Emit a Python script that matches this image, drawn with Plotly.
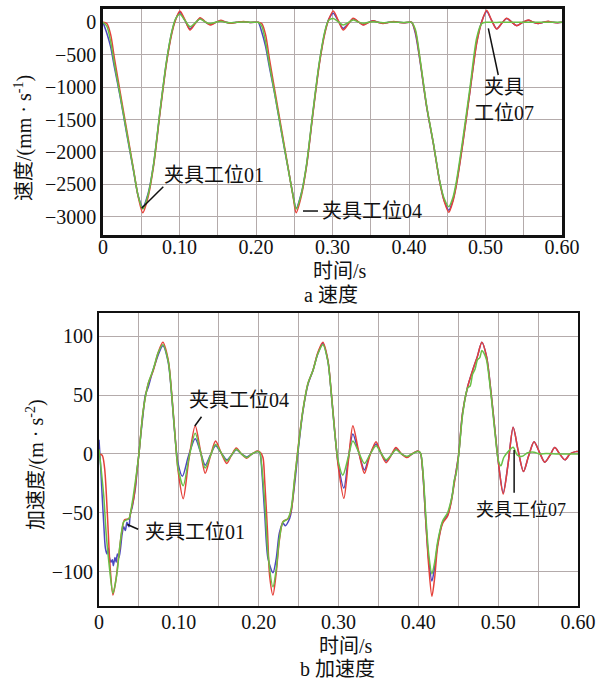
import plotly.graph_objects as go

# ---------------- velocity data (mm/s) ----------------
VEL_T = [0, 0.005, 0.010, 0.015, 0.022, 0.031, 0.040, 0.046, 0.052, 0.059,
         0.066, 0.0745, 0.083, 0.090, 0.095, 0.1005, 0.107, 0.1137, 0.1205, 0.127,
         0.1335, 0.140, 0.147, 0.154, 0.160, 0.166, 0.175, 0.184, 0.192, 0.200,
         0.203, 0.2075, 0.2125, 0.2175, 0.2245, 0.2335, 0.2425, 0.2485, 0.2525, 0.259,
         0.266, 0.2745, 0.283, 0.290, 0.295, 0.301, 0.3075, 0.314, 0.3205, 0.327,
         0.3335, 0.340, 0.3465, 0.353, 0.3595, 0.366, 0.373, 0.380, 0.3865, 0.393, 0.400,
         0.4035, 0.4085, 0.4144, 0.4231, 0.4318, 0.4405, 0.446, 0.452, 0.4575, 0.4616,
         0.4704, 0.480, 0.4885, 0.4950, 0.5015, 0.508, 0.5146, 0.521, 0.5277, 0.534,
         0.5407, 0.548, 0.556, 0.5625, 0.569, 0.5755, 0.582, 0.588, 0.5945, 0.600]

VEL_RED = [0, -20, -190, -560, -1045, -1662, -2279, -2691, -2938, -2691,
           -2228, -1404, -633, -170, 40, 174, 40, -119, -20, 71,
           10, -42, -5, 30, 5, -15, 0, 12, -3, 0,
           0, -20, -190, -560, -1045, -1662, -2279, -2691, -2938, -2691,
           -2228, -1404, -633, -170, 40, 174, 30, -119, -30, 62,
           10, -42, -8, 25, 0, -20, -2, 12, 0, -8, 0,
           0, -150, -582, -1302, -1867, -2485, -2760, -2932, -2760, -2537,
           -1867, -1045, -324, 0, 185, 30, -103, -20, 62, 5,
           -52, -5, 35, 0, -20, 0, 15, 0, -8, 0]

VEL_BLUE = [0, -170, -380, -700, -1120, -1720, -2300, -2680, -2850, -2640,
            -2200, -1380, -610, -150, 50, 150, 30, -100, -15, 60,
            8, -35, -3, 25, 3, -12, 0, 10, -2, 0,
            0, -150, -370, -690, -1110, -1710, -2290, -2670, -2870, -2650,
            -2210, -1385, -615, -155, 45, 140, 20, -93, -20, 55,
            8, -38, -5, 22, 0, -16, 0, 10, 0, -6, 0,
            0, -180, -600, -1310, -1870, -2480, -2750, -2900, -2740, -2520,
            -1850, -1030, -310, 10, 165, 30, -100, -20, 60, 5,
            -50, -5, 33, 0, -19, 0, 14, 0, -7, 0]

VEL_GREEN = [0, -60, -300, -650, -1100, -1700, -2290, -2680, -2880, -2660,
             -2200, -1370, -600, -140, 55, 123, 30, -68, -10, 50,
             5, -20, 0, 15, 0, -8, 0, 6, 0, 0,
             0, -60, -300, -650, -1100, -1700, -2290, -2680, -2880, -2660,
             -2200, -1370, -600, -140, 30, 60, 10, -42, -5, 35,
             5, -15, 0, 10, 0, -6, 0, 4, 0, -2, 0,
             0, -120, -560, -1290, -1860, -2470, -2720, -2845, -2700, -2480,
             -1800, -980, -240, -20, 0, 0, -3, 0, 2, 0,
             0, 0, 0, 0, 0, 0, 0, 0, 0, 0]

# ---------------- acceleration data (m/s^2) ----------------
ACC_T_RED = [0, 0.004, 0.007, 0.0104, 0.0138, 0.0175, 0.021, 0.025, 0.029, 0.032,
             0.0375, 0.0405, 0.0437, 0.047, 0.050, 0.0554, 0.0617, 0.068, 0.074, 0.080,
             0.0867, 0.091, 0.095, 0.099, 0.1055, 0.1125, 0.1205, 0.127, 0.133, 0.1395,
             0.146, 0.153, 0.160, 0.166, 0.172, 0.1785, 0.185, 0.1915, 0.1985, 0.2025,
             0.2054, 0.2075, 0.211, 0.2138, 0.2179, 0.222, 0.226, 0.2304, 0.2367, 0.2408,
             0.245, 0.249, 0.2554, 0.2617, 0.268, 0.274, 0.2804, 0.2867, 0.291, 0.2955,
             0.2996, 0.3067, 0.3125, 0.318, 0.325, 0.3325, 0.339, 0.347, 0.353, 0.3596,
             0.366, 0.372, 0.379, 0.386, 0.392, 0.399, 0.4025,
             0.4054, 0.4096, 0.413, 0.417, 0.4205, 0.4241, 0.4304, 0.4366, 0.4409, 0.445,
             0.4504, 0.4554, 0.4617, 0.468, 0.474, 0.4796, 0.4854, 0.4908, 0.496, 0.5004,
             0.5063, 0.5125, 0.5188, 0.525, 0.5317, 0.538, 0.545, 0.552, 0.5584, 0.565,
             0.5709, 0.577, 0.5838, 0.590, 0.597, 0.600]
ACC_RED = [0, -1, -12, -50, -95, -120, -108, -85, -64, -56,
           -55, -47, -37, -18, 0, 37, 60, 71, 86, 95,
           80, 52, 18, -14, -38, -5, 24, 3, -16.5, -2,
           11, 1, -8, -1, 5, 0, -3.7, 0, 2.5, 1,
           -3, -22, -65, -104, -120, -101, -73, -57.6, -55, -48,
           -22, 3, 37, 60, 71, 86, 95, 80, 52, 18,
           -10, -37.7, -5, 24, 3, -16.4, -2, 10.5, 1, -7.4,
           -1, 5.4, 0, -3, 0, 2.5, 1,
           -14, -60, -95, -121, -105, -79, -59, -53, -42, -25,
           -1, 35, 57, 71, 83, 95, 83, 54, 20, -8,
           -34, -8, 22.7, 3, -15, -2, 10.5, 1, -7, -1,
           5.4, 0, -5, 0, 2, 2]

ACC_T_BLUE = [0, 0.002, 0.004, 0.006, 0.008, 0.010, 0.0115, 0.013, 0.015, 0.0167,
              0.018, 0.020, 0.0215, 0.023, 0.025, 0.027, 0.029, 0.031, 0.033, 0.035,
              0.0375, 0.039, 0.0417, 0.0435, 0.0458, 0.048, 0.050, 0.052, 0.0554, 0.058,
              0.0617, 0.065, 0.068, 0.071, 0.074, 0.080, 0.0867, 0.091, 0.095, 0.099,
              0.1045, 0.112, 0.1205, 0.127, 0.133, 0.1395, 0.146, 0.153, 0.160, 0.166,
              0.172, 0.1785, 0.185, 0.1915, 0.1985, 0.2015,
              0.2025, 0.2075, 0.2117, 0.2179, 0.222, 0.226, 0.2304, 0.2335, 0.2375,
              0.240, 0.2425, 0.246, 0.249, 0.2554, 0.2617, 0.268, 0.274, 0.2804, 0.2867,
              0.291, 0.2955, 0.2996, 0.3067, 0.3125, 0.318, 0.325, 0.3325, 0.339, 0.347,
              0.353, 0.3596, 0.366, 0.372, 0.379, 0.386, 0.392, 0.399, 0.4025,
              0.4054, 0.4096, 0.413, 0.417, 0.4205, 0.4241, 0.4304, 0.4366, 0.4409, 0.445,
              0.4504, 0.4554, 0.4617, 0.468, 0.474, 0.4796, 0.4854, 0.4908, 0.496, 0.5004,
              0.5063, 0.5125, 0.5188, 0.525, 0.5317, 0.538, 0.545, 0.552, 0.5584, 0.565,
              0.5709, 0.577, 0.5838, 0.590, 0.597, 0.600]
ACC_BLUE = [12, -10, -36, -60, -80, -85, -80, -88, -92, -90,
            -95, -88, -92, -85, -88, -80, -68, -62, -65, -58,
            -62, -52, -45, -38, -28, -12, 0, 14, 35, 50,
            57, 65, 72, 78, 84, 92, 78, 50, 17, -8,
            -19, -2, 13, 2, -9.5, -1, 7, 1, -5, -1,
            3.5, 0, -2.5, 0, 2, 1,
            -2, -50, -89, -101, -89, -67, -59, -61, -57,
            -52, -40, -20, 0, 36, 59, 71, 85, 94, 79,
            51, 17, -8, -29, -3, 17, 2, -13.6, -1, 8.5,
            1, -6, -1, 4.4, 0, -2.5, 0, 2.3, 1,
            -14, -60, -90, -108, -96, -77, -58, -52, -41, -24,
            -1, 35, 57, 71, 83, 95, 83, 54, 20, -8,
            -33, -8, 22.7, 3, -15, -2, 10.5, 1, -7, -1,
            5.4, 0, -5, 0, 2, 2]

ACC_T_GREEN = [0, 0.003, 0.006, 0.009, 0.0125, 0.0175, 0.021, 0.023, 0.027, 0.031,
               0.0345, 0.0375, 0.0417, 0.0458, 0.050, 0.0554, 0.0617, 0.068, 0.074, 0.080,
               0.0867, 0.091, 0.095, 0.099, 0.1055, 0.1125, 0.1205, 0.127, 0.133, 0.1395,
               0.146, 0.153, 0.160, 0.166, 0.172, 0.1785, 0.185, 0.1915, 0.1985, 0.2015,
               0.2025, 0.2075, 0.2117, 0.2179, 0.222, 0.226, 0.2304, 0.2367, 0.2408, 0.245,
               0.249, 0.2554, 0.2617, 0.268, 0.274, 0.2804, 0.2867, 0.291, 0.2955, 0.2996,
               0.3054, 0.3125, 0.318, 0.325, 0.3325, 0.339, 0.347, 0.353, 0.3596, 0.366,
               0.372, 0.379, 0.386, 0.392, 0.399, 0.4025,
               0.4054, 0.4096, 0.413, 0.417, 0.4205, 0.4241, 0.4304, 0.4366, 0.4409, 0.443,
               0.445, 0.447, 0.4504, 0.4554, 0.4617, 0.465, 0.468, 0.471, 0.474, 0.477,
               0.4796, 0.482, 0.4854, 0.4908, 0.496, 0.5004, 0.5034, 0.507, 0.5125, 0.5188,
               0.524, 0.530, 0.537, 0.545, 0.552, 0.560, 0.575, 0.590, 0.600]
ACC_GREEN = [4, -15, -36, -68, -93, -118.5, -108, -99, -73, -57.6,
             -56, -55, -41, -22, 0, 37, 60, 72, 86, 93,
             79, 51, 17, -12, -27, -4, 17.6, 2, -12, -1.5,
             8, 1, -6, -1, 4, 0, -3, 0, 2, 1,
             -2, -40, -85, -113, -98, -72, -58, -55, -46, -21,
             2, 37, 60, 71, 85, 93, 79, 51, 17, -6,
             -18, -2, 11, 2, -8, -1, 7, 1, -5, -1,
             3.5, 0, -2, 0, 2, 1,
             -12, -55, -85, -102, -92, -75, -57, -50, -40, -33,
             -22, -18, -2, 33, 56, 58, 68, 72, 80, 82,
             88, 86, 80, 52, 18, -6, -10, -3, 2, 5.7,
             -1, -2, 1, 1.5, 0, 0.5, 0, 0, 0]

X_TICKS = [0, 0.10, 0.20, 0.30, 0.40, 0.50, 0.60]
X_TICKTEXT = ["0", "0.10", "0.20", "0.30", "0.40", "0.50", "0.60"]
VEL_TICKS = [-3000, -2500, -2000, -1500, -1000, -500, 0]
VEL_TICKTEXT = ["\u22123000", "\u22122500", "\u22122000", "\u22121500", "\u22121000", "\u2212500", "0"]
ACC_TICKS = [-100, -50, 0, 50, 100]
ACC_TICKTEXT = ["\u2212100", "\u221250", "0", "50", "100"]

RED = "#e5413a"
BLUE = "#4b48c0"
GREEN = "#69c046"
FONT = "Liberation Serif, Noto Sans CJK SC, serif"
GRID = "#b4abab"

fig = go.Figure()

def add_line(t, v, color, xa, ya):
    fig.add_trace(go.Scatter(x=t, y=v, mode="lines", xaxis=xa, yaxis=ya,
                             line=dict(color=color, width=1.5, shape="spline", smoothing=0.8),
                             hoverinfo="skip", showlegend=False))

add_line(VEL_T, VEL_BLUE, BLUE, "x", "y")
add_line(VEL_T, VEL_RED, RED, "x", "y")
add_line(VEL_T, VEL_GREEN, GREEN, "x", "y")
add_line(ACC_T_BLUE, ACC_BLUE, BLUE, "x2", "y2")
add_line(ACC_T_RED, ACC_RED, RED, "x2", "y2")
add_line(ACC_T_GREEN, ACC_GREEN, GREEN, "x2", "y2")

def xax(domain, anchor, lw, standoff):
    return dict(domain=domain, anchor=anchor, range=[0, 0.6], tickvals=X_TICKS, ticktext=X_TICKTEXT,
                showgrid=True, gridcolor=GRID, gridwidth=1, zeroline=False, automargin=False,
                minor=dict(tick0=0, dtick=0.05, showgrid=True, gridcolor=GRID, gridwidth=1, ticks=""),
                showline=True, mirror=True, linecolor="#111", linewidth=lw,
                ticks="", ticklabelstandoff=standoff,
                tickfont=dict(family=FONT, size=20, color="#111"))

def yax(domain, anchor, rng, tv, tt, lw):
    return dict(domain=domain, anchor=anchor, range=rng, tickvals=tv, ticktext=tt,
                showgrid=True, gridcolor=GRID, gridwidth=1, zeroline=False, automargin=False,
                showline=True, mirror=True, linecolor="#111", linewidth=lw,
                ticks="", tickfont=dict(family=FONT, size=20, color="#111"))

fig.update_layout(
    width=600, height=682, autosize=False, showlegend=False,
    margin=dict(l=0, r=0, t=0, b=0, pad=0, autoexpand=False),
    paper_bgcolor="white", plot_bgcolor="white",
    font=dict(family=FONT, size=20, color="#111"),
    xaxis=xax([103/600, 562/600], "y", 2.5, -8),
    yaxis=yax([1-235/682, 1-9/682], "x", [-3282, 205], VEL_TICKS, VEL_TICKTEXT, 2.5),
    xaxis2=xax([99/600, 578/600], "y2", 2, -3),
    yaxis2=yax([1-606/682, 1-313/682], "x2", [-129.3, 119.9], ACC_TICKS, ACC_TICKTEXT, 2),
)

def ptext(text, px, py, size=20, angle=0):
    fig.add_annotation(text=text, x=px/600, y=1-py/682, xref="paper", yref="paper",
                       showarrow=False, textangle=angle, xanchor="center", yanchor="middle",
                       font=dict(family=FONT, size=size, color="#111"))

ptext("时间/s", 340, 271)
ptext("a 速度", 331, 295)
ptext("时间/s", 346, 646)
ptext("b 加速度", 337, 669)
ptext("速度/(mm · s<sup>-1</sup>)", 23, 138, angle=-90)
ptext("加速度/(m · s<sup>-2</sup>)", 36, 465, angle=-90)

def dtext(text, x, y, xr, yr, size=20, xanchor="left"):
    fig.add_annotation(text=text, x=x, y=y, xref=xr, yref=yr, showarrow=False,
                       xanchor=xanchor, yanchor="middle", align="center",
                       font=dict(family=FONT, size=size, color="#111"))

def dline(x0, y0, x1, y1, xr, yr):
    fig.add_shape(type="line", x0=x0, y0=y0, x1=x1, y1=y1, xref=xr, yref=yr,
                  line=dict(color="#111", width=1.5))

# top chart labels
dtext("夹具工位01", 0.0771, -2357, "x", "y")
dline(0.0505, -2870, 0.0788, -2537, "x", "y")
dtext("夹具工位04", 0.2837, -2912, "x", "y")
dline(0.2614, -2912, 0.2810, -2912, "x", "y")
dtext("夹具<br>工位07", 0.5242, -1199, "x", "y", xanchor="center")
dline(0.5037, -93, 0.5167, -813, "x", "y")

# bottom chart labels
dtext("夹具工位04", 0.110, 45.9, "x2", "y2")
dline(0.120, 23.8, 0.1284, 31.7, "x2", "y2")
dtext("夹具工位01", 0.055, -66, "x2", "y2")
dline(0.0355, -60, 0.049, -64, "x2", "y2")
dtext("夹具工位07", 0.529, -47.6, "x2", "y2", size=18, xanchor="center")
dline(0.520, 3.4, 0.520, -33, "x2", "y2")

fig.write_html("out.html", config={"responsive": False})
